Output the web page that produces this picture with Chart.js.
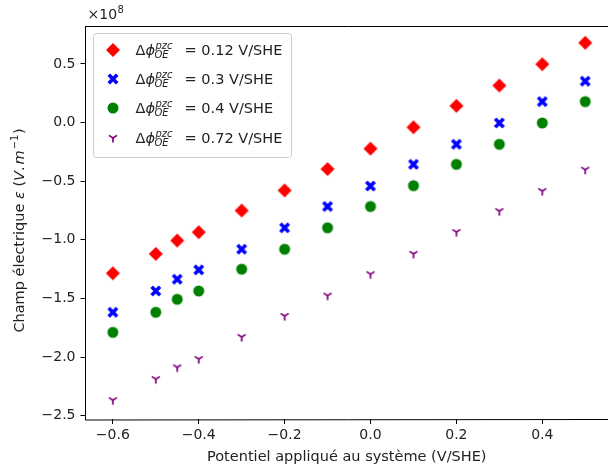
<!DOCTYPE html>
<html>
<head>
<meta charset="utf-8">
<script src="https://cdn.jsdelivr.net/npm/chart.js@4.4.1/dist/chart.umd.min.js"></script>
<style>
  html, body { margin: 0; padding: 0; background: #fff; }
  #wrap { width: 608px; height: 472px; }
</style>
</head>
<body>
<div id="wrap"><canvas id="fieldChart" width="608" height="472"></canvas></div>
<script>
// applied potential (V/SHE)
var potentials = [-0.6, -0.5, -0.45, -0.4, -0.3, -0.2, -0.1, 0.0, 0.1, 0.2, 0.3, 0.4, 0.5];
// electric field, in units of 1e8 V/m
var field012 = [-1.285, -1.12, -1.006, -0.935, -0.75, -0.578, -0.396, -0.222, -0.04, 0.143, 0.316, 0.498, 0.681];
var field03 = [-1.618, -1.436, -1.336, -1.256, -1.08, -0.897, -0.715, -0.541, -0.356, -0.185, -0.003, 0.179, 0.353];
var field04 = [-1.789, -1.618, -1.507, -1.436, -1.25, -1.08, -0.897, -0.715, -0.538, -0.356, -0.185, -0.003, 0.179];
var field072 = [-2.368, -2.188, -2.088, -2.017, -1.829, -1.65, -1.476, -1.293, -1.12, -0.934, -0.755, -0.584, -0.402];
var pzcShifts = ['0.12', '0.3', '0.4', '0.72'];
var xTicks = [-0.6, -0.4, -0.2, 0.0, 0.2, 0.4];
var yTicks = [-2.5, -2.0, -1.5, -1.0, -0.5, 0.0, 0.5];

var FONT = '"DejaVu Sans", sans-serif';
var INK = '#222';

function makeMarker(size, draw) {
  var c = document.createElement('canvas');
  c.width = size; c.height = size;
  var g = c.getContext('2d');
  draw(g, size / 2);
  return c;
}

var diamond = makeMarker(16, function (g, m) {
  g.fillStyle = '#ff0000';
  g.beginPath();
  g.moveTo(m, m - 7); g.lineTo(m + 7, m); g.lineTo(m, m + 7); g.lineTo(m - 7, m);
  g.closePath(); g.fill();
});
var cross = makeMarker(14, function (g, m) {
  g.strokeStyle = '#0000ff';
  g.lineWidth = 3.6;
  g.beginPath();
  g.moveTo(m - 4.2, m - 4.2); g.lineTo(m + 4.2, m + 4.2);
  g.moveTo(m + 4.2, m - 4.2); g.lineTo(m - 4.2, m + 4.2);
  g.stroke();
});
var circle = makeMarker(14, function (g, m) {
  g.fillStyle = '#008000';
  g.beginPath();
  g.arc(m, m, 5.5, 0, Math.PI * 2);
  g.fill();
});
var triDown = makeMarker(12, function (g, m) {
  g.strokeStyle = '#800080';
  g.lineWidth = 1.7;
  g.beginPath();
  g.moveTo(m, m); g.lineTo(m, m + 4.5);
  g.moveTo(m, m); g.lineTo(m - 4, m - 2.6);
  g.moveTo(m, m); g.lineTo(m + 4, m - 2.6);
  g.stroke();
});

function pts(ys) {
  return potentials.map(function (x, i) { return { x: x, y: ys[i] }; });
}

function fmt(v) {
  return v.toFixed(1).replace('-', '\u2212');
}

var series = [
  { values: field012, marker: diamond },
  { values: field03, marker: cross },
  { values: field04, marker: circle },
  { values: field072, marker: triDown }
];

// draw a run of [text, font, dy, extra] pieces, returns end x
function runs(ctx, parts, x, y) {
  parts.forEach(function (p) {
    ctx.font = p[1];
    ctx.fillText(p[0], x, y + (p[2] || 0));
    x += ctx.measureText(p[0]).width + (p[3] || 0);
  });
  return x;
}

var framePlugin = {
  id: 'frame',
  afterDraw: function (chart) {
    var ctx = chart.ctx, a = chart.chartArea;
    ctx.save();
    ctx.strokeStyle = '#000';
    ctx.lineWidth = 1;
    ctx.beginPath();
    ctx.moveTo(Math.round(a.left) - 0.5, Math.round(a.top) + 0.5);
    ctx.lineTo(a.right + 2, Math.round(a.top) + 0.5);
    ctx.moveTo(Math.round(a.left) - 0.5, Math.round(a.top));
    ctx.lineTo(Math.round(a.left) - 0.5, Math.round(a.bottom) + 1);
    ctx.lineTo(a.right + 2, Math.round(a.bottom) + 0.5);
    ctx.stroke();

    ctx.fillStyle = INK;
    ctx.textBaseline = 'alphabetic';

    // offset text
    runs(ctx, [['\u00d710', '14px ' + FONT, 0, 0.5], ['8', '10px ' + FONT, -6]], a.left + 2, 19);

    // y axis title
    ctx.save();
    ctx.translate(24, (a.top + a.bottom) / 2);
    ctx.rotate(-Math.PI / 2);
    var yParts = [
      ['Champ \u00e9lectrique ', '14.5px ' + FONT],
      ['\u03b5', 'italic 14.5px ' + FONT],
      [' (', '14.5px ' + FONT],
      ['V', 'italic 14.5px ' + FONT],
      ['.', '14.5px ' + FONT, 0, 2],
      ['m', 'italic 14.5px ' + FONT, 0, 1],
      ['\u22121', '10px ' + FONT, -6, 0.5],
      [')', '14.5px ' + FONT]
    ];
    var total = 0;
    yParts.forEach(function (p) { ctx.font = p[1]; total += ctx.measureText(p[0]).width + (p[3] || 0); });
    runs(ctx, yParts, -total / 2 - 8, 0);
    ctx.restore();

    // legend
    var lx = 93.5, ly = 33.5, lw = 198, lh = 124;
    ctx.beginPath();
    ctx.roundRect(lx, ly, lw, lh, 3);
    ctx.fillStyle = 'rgba(255,255,255,0.8)';
    ctx.fill();
    ctx.strokeStyle = '#cccccc';
    ctx.stroke();
    var rows = [50, 79, 108, 138];
    chart.data.datasets.forEach(function (ds, i) {
      var y = rows[i];
      var mk = series[i].marker;
      ctx.drawImage(mk, 113 - mk.width / 2, y - mk.height / 2);
      var base = y + 5;
      ctx.fillStyle = INK;
      var x = runs(ctx, [['\u0394', '14.5px ' + FONT], ['\u03d5', 'italic 14.5px ' + FONT, 0, 0.5]], 135.5, base);
      ctx.font = 'italic 10px ' + FONT;
      ctx.fillText('pzc', x, base - 6);
      var w1 = ctx.measureText('pzc').width;
      ctx.fillText('OE', x - 1, base + 2.5);
      var w2 = ctx.measureText('OE').width - 1;
      x += Math.max(w1, w2) + 12;
      ctx.font = '14.5px ' + FONT;
      ctx.fillText('= ' + pzcShifts[i] + ' V/SHE', x, base);
    });
    ctx.restore();
  }
};

new Chart(document.getElementById('fieldChart'), {
  type: 'scatter',
  data: {
    datasets: series.map(function (s, i) {
      return {
        label: '\u0394\u03d5 = ' + pzcShifts[i] + ' V/SHE',
        data: pts(s.values),
        pointStyle: s.marker,
        pointRadius: 6,
        pointHoverRadius: 6
      };
    })
  },
  options: {
    responsive: false,
    animation: false,
    events: [],
    layout: { autoPadding: false, padding: { top: 26, right: 0, left: 0, bottom: 0 } },
    plugins: { legend: { display: false }, tooltip: { enabled: false } },
    scales: {
      x: {
        type: 'linear',
        min: -0.6636,
        max: 0.553,
        afterFit: function (s) { s.height = 53; s.paddingLeft = 0; s.paddingRight = 0; },
        afterBuildTicks: function (s) { s.ticks = xTicks.map(function (v) { return { value: v }; }); },
        border: { display: false },
        grid: { drawOnChartArea: false, drawTicks: true, tickLength: 5, tickColor: '#000', tickWidth: 1 },
        ticks: { color: INK, font: { family: FONT, size: 14 }, padding: 3, maxRotation: 0,
          callback: function (v) { return fmt(v); } },
        title: { display: true, text: 'Potentiel appliqu\u00e9 au syst\u00e8me (V/SHE)', color: INK,
          font: { family: FONT, size: 14.5 }, padding: { top: 0, bottom: 6 } }
      },
      y: {
        type: 'linear',
        min: -2.528,
        max: 0.824,
        afterFit: function (s) { s.width = 85.5; s.paddingTop = 0; s.paddingBottom = 0; },
        afterBuildTicks: function (s) { s.ticks = yTicks.map(function (v) { return { value: v }; }); },
        border: { display: false },
        grid: { drawOnChartArea: false, drawTicks: true, tickLength: 5, tickColor: '#000', tickWidth: 1 },
        ticks: { color: INK, font: { family: FONT, size: 14 }, padding: 5,
          callback: function (v) { return fmt(v); } },
        title: { display: false }
      }
    }
  },
  plugins: [framePlugin]
});
</script>
</body>
</html>
